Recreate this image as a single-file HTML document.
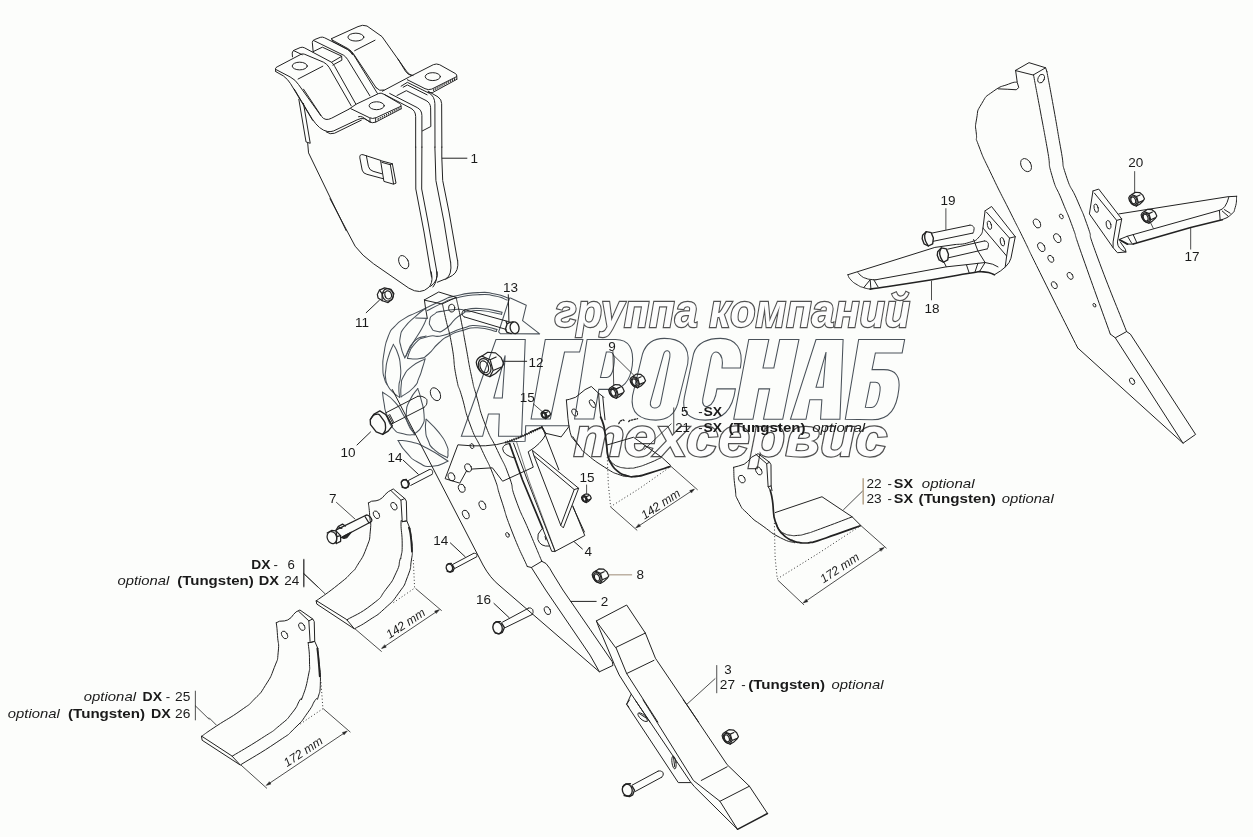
<!DOCTYPE html>
<html><head><meta charset="utf-8"><title>Diagram</title>
<style>
html,body{margin:0;padding:0;background:#fcfdfb;}
body{width:1253px;height:837px;overflow:hidden;font-family:"Liberation Sans",sans-serif;}
svg{display:block}
text{filter:grayscale(1)}
.l,.l *{vector-effect:non-scaling-stroke}
#nutL *{vector-effect:non-scaling-stroke}
.l{fill:none;stroke:#222;stroke-width:1;stroke-linecap:round;stroke-linejoin:round}
.dt{stroke:#333;stroke-dasharray:1 2.3;stroke-linecap:butt;stroke-width:1}
.hd{stroke-width:1.35}
use{stroke-width:1.2}
.f{fill:#fff;stroke:#262626;stroke-width:.9;stroke-linecap:round;stroke-linejoin:round}
.t{fill:none;stroke:#3a3a3a;stroke-width:.8;stroke-linecap:round;stroke-linejoin:round}
.d{fill:none;stroke:#555;stroke-width:.8;stroke-dasharray:1 1.6}
.w,.w *{vector-effect:non-scaling-stroke}
.w{fill:none;stroke:#4a525a;stroke-width:1.05;stroke-linejoin:miter}
text{font-family:"Liberation Sans",sans-serif;fill:#1a1a1a}
</style></head><body>
<svg width="1253" height="837" viewBox="0 0 1253 837">
<rect width="1253" height="837" fill="#fcfdfb"/>
<!-- watermark big letters -->
<g class="w">
<g transform="translate(455 332) scale(0.16722)">
<!-- A big -->
<path d="M245,45 L420,45 L398,624 L260,624 L265,490 L200,490 L165,624 L38,624 Z M300,140 L232,395 L283,395 Z"/>
<!-- Г -->
<path d="M540,45 L765,45 L745,120 L655,120 L570,520 L455,520 Z"/>
<!-- Р -->
<path d="M790,45 L960,45 C1040,45 1072,100 1060,200 C1048,290 1010,343 930,343 L860,343 L830,520 L715,520 Z M905,120 L870,272 L905,272 C935,272 948,225 952,180 C955,140 945,120 925,120 Z"/>
</g>
<g transform="translate(620 332) scale(0.16722)">
<!-- О -->
<path d="M135,130 C155,70 200,38 265,38 C360,38 420,85 405,190 L345,430 C325,495 280,527 215,527 C125,527 58,490 75,380 Z M260,135 C268,100 305,105 298,150 L243,425 C235,465 173,465 182,420 Z"/>
<!-- С -->
<path d="M720,215 L610,215 C624,118 560,92 545,150 L495,400 C483,468 562,470 580,340 L690,340 C672,480 600,527 510,527 C415,527 365,480 385,390 L440,130 C460,62 530,38 600,38 C692,38 742,100 720,215 Z"/>
<!-- Н -->
<path d="M770,45 L890,45 L855,215 L920,215 L955,45 L1070,45 L973,522 L858,522 L895,340 L830,340 L795,522 L680,522 Z"/>
</g>
<g transform="translate(760 332) scale(0.16722)">
<!-- А -->
<path d="M335,45 L497,45 L478,522 L362,522 L370,405 L298,405 L275,522 L182,522 Z M395,120 L335,330 L378,330 Z"/>
<!-- Б -->
<path d="M590,45 L865,45 L850,125 L690,125 L670,225 L740,225 C815,225 840,270 830,345 C818,450 780,525 670,525 L510,522 Z M660,300 L630,450 L665,452 C700,452 712,400 718,350 C722,315 710,300 690,300 Z"/>
</g>
<path d="M569.5,425.7 L525.7,425.7 L525.1,441.3 L505.9,441.9"/>
</g>
<!-- watermark small text -->
<g>
<text x="554.7" y="327.1" font-size="46" font-weight="bold" font-style="italic" textLength="355.4" lengthAdjust="spacingAndGlyphs" style="font-family:'Liberation Sans',sans-serif;fill:#fcfdfb;stroke:#4a525a;stroke-width:2.4;stroke-linejoin:miter;stroke-miterlimit:3;paint-order:stroke fill">группа компаний</text>
<text x="573.5" y="456.1" font-size="55" font-weight="bold" font-style="italic" textLength="313.8" lengthAdjust="spacingAndGlyphs" style="font-family:'Liberation Sans',sans-serif;fill:#fcfdfb;stroke:#4a525a;stroke-width:2.4;stroke-linejoin:miter;stroke-miterlimit:3;paint-order:stroke fill">техсервис</text>
</g>
<!-- watermark logo: wreath + gear (U coords: origin 370,295 @9.623) -->
<g transform="translate(370 295) scale(0.10392)" class="w" style="stroke-linejoin:round;stroke-linecap:round">
<!-- outer arc -->
<path d="M540,124 C506.7,140.0 507.7,139.0 440,172 C372.3,205.0 403.7,180.3 337,223 C270.3,265.7 294.0,241.0 240,300 C186.0,359.0 210.0,313.3 175,400 C140.0,486.7 152.0,460.0 135,560 C118.0,660.0 123.0,620.0 124,700 C125.0,780.0 122.7,743.3 138,800 C153.3,856.7 142.7,825.0 170,870 C197.3,915.0 182.3,896.7 220,935 C257.7,973.3 262.0,968.3 283,985"/>
<!-- gear double outer arc -->
<path d="M540,124 C592.0,100.0 602.7,90.3 696,52 C789.3,13.7 705.3,34.0 820,9 C934.7,-16.0 912.3,-16.7 1040,-23 C1167.7,-29.3 1107.3,-27.3 1203,-10 C1298.7,7.3 1285.7,16.0 1327,29"/>
<path d="M551,150 C599.3,126.0 606.3,118.0 696,78 C785.7,38.0 705.3,57.0 820,30 C934.7,3.0 912.3,3.7 1040,-3 C1167.7,-9.7 1110.0,-7.3 1203,10 C1296.0,27.3 1280.3,36.0 1319,49"/>
<!-- gear tooth + base line -->
<path d="M1343,29 L1238,356 L1254,372 L1633,374 L1468,247 L1504,98 L1351,29"/>
<!-- inner crescent -->
<path d="M904,146 C956.0,140.7 938.0,123.3 1060,130 C1182.0,136.7 1200.0,154.0 1270,166"/>
<path d="M1266,186 C1197.3,174.0 1168.7,158.0 1060,150 C951.3,142.0 992.0,163.3 940,162 C888.0,160.7 916.0,151.3 904,146"/>
<path d="M1270,166 L1266,186"/>
<!-- teardrop -->
<path d="M575,244 C584.0,205.0 568.0,219.0 613,189 C658.0,159.0 613.0,168.0 710,154 C807.0,140.0 867.0,121.7 904,147 C941.0,172.3 881.0,170.0 821,230 C761.0,290.0 784.0,287.7 724,327 C664.0,366.3 687.0,355.0 641,348 C595.0,341.0 608.0,340.7 586,306 C564.0,271.3 566.0,283.0 575,244Z"/>
<!-- leaf A -->
<path d="M537,127 C505.0,152.3 507.7,143.3 441,203 C374.3,262.7 386.7,240.3 337,306 C287.3,371.7 305.0,335.3 292,400 C279.0,464.7 283.7,431.7 298,500 C312.3,568.3 322.7,570.0 335,605"/>
<path d="M544,225 C528.0,259.0 539.7,248.0 496,327 C452.3,406.0 466.7,369.3 413,462 C359.3,554.7 361.0,557.3 335,605"/>
<path d="M440,222 L550,225"/>
<!-- leaf C + lower band -->
<path d="M360,605 C383.3,560.0 363.3,538.3 430,470 C496.7,401.7 470.0,426.7 560,400 C650.0,373.3 590.0,416.7 700,390 C810.0,363.3 778.0,351.7 890,320 C1002.0,288.3 925.3,291.3 1036,295 C1146.7,298.7 1160.0,319.0 1222,331"/>
<path d="M360,610 C400.0,610.0 413.3,623.3 480,610 C546.7,596.7 499.3,619.3 560,570 C620.7,520.7 593.7,522.3 662,462 C730.3,401.7 689.0,429.3 765,389 C841.0,348.7 799.7,365.7 890,341 C980.3,316.3 928.0,311.3 1036,315 C1144.0,318.7 1154.7,339.7 1214,352"/>
<path d="M1222,331 L1214,352"/>
<path d="M345,590 C370.0,543.3 355.0,515.0 420,450 C485.0,385.0 500.0,413.3 540,395"/>
<!-- leaf E -->
<path d="M225,475 C208.3,516.7 199.3,518.3 175,600 C150.7,681.7 160.3,653.3 152,720 C143.7,786.7 145.7,753.3 150,800 C154.3,846.7 160.0,840.0 165,860"/>
<path d="M225,475 C240.0,506.7 247.7,501.7 270,570 C292.3,638.3 284.3,606.7 292,680 C299.7,753.3 297.7,723.3 293,790 C288.3,856.7 280.7,815.0 278,880 C275.3,945.0 282.7,950.0 285,985"/>
<!-- leaf D -->
<path d="M530,615 C486.7,640.0 468.3,635.0 400,690 C331.7,745.0 358.3,720.0 325,780 C291.7,840.0 309.0,803.3 300,870 C291.0,936.7 298.7,943.3 298,980"/>
<path d="M530,615 C521.7,643.3 525.0,638.3 505,700 C485.0,761.7 498.3,736.7 470,800 C441.7,863.3 476.7,830.0 420,890 C363.3,950.0 340.0,950.0 300,980"/>
<!-- leaf F -->
<path d="M120,935 C125.0,970.0 121.7,968.3 135,1040 C148.3,1111.7 131.7,1070.0 160,1150 C188.3,1230.0 166.7,1218.3 220,1280 C273.3,1341.7 250.0,1313.3 320,1335 C390.0,1356.7 393.3,1341.7 430,1345"/>
<path d="M120,935 C160.0,966.7 170.0,951.7 240,1030 C310.0,1108.3 276.7,1083.3 330,1170 C383.3,1256.7 366.7,1231.7 400,1290 C433.3,1348.3 420.0,1326.7 430,1345"/>
<!-- leaf G -->
<path d="M460,900 C435.0,936.7 421.7,933.3 385,1010 C348.3,1086.7 355.0,1050.0 350,1130 C345.0,1210.0 343.3,1181.7 370,1250 C396.7,1318.3 410.0,1306.7 430,1335"/>
<path d="M460,900 C470.0,933.3 470.0,916.7 490,1000 C510.0,1083.3 516.7,1063.3 520,1150 C523.3,1236.7 530.0,1198.3 500,1260 C470.0,1321.7 453.3,1310.0 430,1335"/>
<!-- leaf H -->
<path d="M540,1195 C538.3,1230.0 528.3,1231.7 535,1300 C541.7,1368.3 531.7,1336.7 560,1400 C588.3,1463.3 558.3,1435.0 620,1490 C681.7,1545.0 703.3,1540.0 745,1565"/>
<path d="M540,1195 C580.0,1236.7 595.0,1238.3 660,1320 C725.0,1401.7 705.0,1373.3 735,1440 C765.0,1506.7 746.7,1478.3 750,1520 C753.3,1561.7 746.7,1550.0 745,1565"/>
<!-- leaf I -->
<path d="M270,1400 C313.3,1405.0 306.7,1390.0 400,1415 C493.3,1440.0 433.3,1414.3 550,1475 C666.7,1535.7 683.3,1556.3 750,1597"/>
<path d="M270,1400 C296.7,1438.3 283.3,1443.3 350,1515 C416.7,1586.7 386.7,1570.7 470,1615 C553.3,1659.3 506.7,1653.0 600,1648 C693.3,1643.0 700.0,1616.0 750,1600"/>
</g>
<!-- part 1: bracket top detail (tile 270,30 @11.933) -->
<g transform="translate(270 30) scale(0.0838)" class="l" style="vector-effect:non-scaling-stroke">
<g id="p1a">
<!-- front strap tab -->
<path d="M68,495 L65,462 Q68,448 85,440 L370,290 Q392,280 415,290 L640,385 Q680,405 705,445 L969,905"/>
<path d="M335,585 L630,432"/>
<path d="M68,470 L240,560 Q305,595 340,650 L606,1021"/>
<path d="M70,497 L160,548 Q215,590 245,640 L509,1078"/>
<ellipse cx="355" cy="430" rx="90" ry="46"/>
<!-- thin strip behind -->
<path d="M268,320 L265,275 Q268,250 290,240 L360,210 Q385,200 410,212 L735,385 Q760,410 772,435 L1025,885"/>
<path d="M280,245 L385,295"/>
<!-- channel -->
<path d="M515,260 L505,150 Q505,125 530,115 L600,88 Q625,80 650,92 L935,235 Q975,260 1000,300 L1282,757"/>
<path d="M520,125 L880,302 Q905,320 925,350 L1192,786"/>
<path d="M515,258 L625,205 L855,312 L858,360 L750,418"/>
<path d="M735,385 L855,314"/>
<!-- back tab -->
<path d="M745,130 L735,102"/>
<path d="M740,118 L930,222 Q975,250 1000,290 L1267,690"/>
<path d="M750,138 L925,232 Q960,255 985,295"/>
<path d="M1010,247 L1253,122"/>
<ellipse cx="1025" cy="85" rx="95" ry="47"/>
</g>
</g>
<!-- part 1: front/right tabs + plate tops (tile 345,60 @9.623) -->
<g transform="translate(345 60) scale(0.10392)" class="l">
<!-- front tab -->
<path d="M36,474 L110,424 L325,322 Q345,312 375,330 L525,418 Q540,428 540,445 L540,470"/>
<path d="M538,445 L300,555 Q265,570 235,555 L55,468"/>
<path d="M540,470 L295,598 Q262,612 232,592 L170,550 Q150,538 130,545"/>
<path d="M240,560 L240,598 M295,560 L295,596"/>
<path d="M520,462 L518,472 M500,472 L498,482 M480,482 L478,492 M460,492 L458,502 M440,502 L438,512 M420,512 L418,522 M400,522 L398,532 M380,532 L378,542 M360,542 L358,552 M340,552 L338,562 M320,562 L318,574"/>
<ellipse cx="305" cy="440" rx="73" ry="38"/>
<!-- right tab -->
<path d="M360,300 L620,162 L850,45 Q880,32 910,45 L1065,132 Q1078,142 1076,160 L1076,186"/>
<path d="M1074,160 L835,280 Q800,292 770,276 L600,190"/>
<path d="M1076,186 L845,312 Q820,322 800,310"/>
<path d="M1055,178 L1053,190 M1035,188 L1033,200 M1015,198 L1013,210 M995,208 L993,220 M975,218 L973,230 M955,228 L953,241 M935,238 L933,252 M915,248 L913,262 M895,258 L893,273 M875,268 L873,284 M855,279 L853,295"/>
<ellipse cx="845" cy="160" rx="73" ry="38"/>
<!-- back strap valley -->
<path d="M510,-10 L580,105 Q600,140 640,150"/>
<path d="M300,268 Q330,305 375,290"/>
<!-- plates top -->
<path d="M380,332 L635,465 Q680,490 680,545 L680,840"/>
<path d="M430,322 L695,458 Q740,482 740,535 L740,840"/>
<path d="M500,342 L590,295 L780,390 Q822,412 824,460 L826,640 L745,682"/>
<path d="M540,252 L600,215 L815,322 Q862,350 865,420 L866,840"/>
<path d="M800,300 L895,355 Q930,380 930,420 L932,840"/>
<path d="M560,262 L600,240 L790,335"/>
</g>
<!-- part 1 body (tile 270,90 @5.967) -->
<g transform="translate(270 90) scale(0.16759)" class="l">
<!-- front strap lower bend -->
<path d="M200,-5 L308,158 Q330,188 368,168 L470,115"/>
<path d="M145,-5 L250,170 Q295,240 345,248 Q365,250 380,244 L520,178 Q545,165 565,172 L600,192"/>
<path d="M335,250 Q360,268 385,258 L545,180"/>
<!-- left plate sliver -->
<path d="M172,55 L215,310 L240,318 L200,80"/>
<path d="M225,318 L230,375 L455,840"/>
<!-- slot -->
<path d="M660,420 L555,386 Q533,382 536,405 L550,478 Q555,498 578,503 L678,530"/>
<path d="M575,393 L587,455 Q592,478 615,485 L668,500"/>
<path d="M662,422 L730,440 L752,556 L737,562 L682,546 Z M668,432 L718,446 L737,560 M718,446 L730,440"/>
<!-- label 1 -->
<path d="M1028,407 L1175,407"/>
</g>
<!-- plates long edges, orig coords -->
<g class="l">
<path d="M415.7,147 L415.8,189 L424,232 L431.5,277"/>
<path d="M421.9,147 L421.7,189 L428,222 L436.5,270 Q438,281 433,287"/>
<path d="M434.9,147 L435.9,180.5 L444,222 L450.5,262"/>
<path d="M441.8,147 L441.8,157 L442.7,180.5 L449,212 L457.5,260.5"/>
</g>
<!-- part 1 bottom (tile 330,180 @5.967) -->
<g transform="translate(330 180) scale(0.16759)" class="l">
<path d="M0,112 L150,395 Q190,450 260,500 L470,645 Q540,688 590,640 Q612,615 608,575 L604,548"/>
<path d="M640,548 Q648,600 600,635"/>
<path d="M720,490 Q730,570 690,590 L640,610"/>
<path d="M762,480 Q770,545 730,570 L690,592"/>
<ellipse cx="440" cy="490" rx="27" ry="42" transform="rotate(-27 440 490)"/>
</g>
<text x="470.5" y="162.5" font-size="13.5">1</text>
<g class="l">
<path d="M331.6,38.6 L358,26.6 Q362.5,24.3 367,26 L382,36.6 L406.5,71.2 Q409.5,75.5 413,75.6"/>
</g>
<!-- nut 11 -->
<g transform="translate(385.6 295.1)" class="l" style="stroke-width:1.2">
<path d="M-8.3,-0.7 L-6.1,-5 L-1.1,-7.2 L5.4,-5.7 L8.3,-1.4 L6.8,3.6 L2.5,7.5 L-3.2,5.7 L-7.5,2.9 Z"/>
<ellipse cx="2.3" cy="-0.2" rx="5.4" ry="6.2" transform="rotate(-15 2.3 -0.2)"/>
<ellipse cx="2.6" cy="-0.2" rx="3.3" ry="4.1" transform="rotate(-15 2.6 -0.2)"/>
<path d="M-3.4,5.6 L-3.6,-1.5 L-6.1,-5 M-3.6,-1.5 L-1,-2.8"/>
</g>
<path class="l" d="M379.5,300.1 L366.2,312.7"/>
<text x="355" y="326.8" font-size="13.5">11</text>
<!-- nut 12 (origin 462,340 @16.7) -->
<defs>
<g id="nutL">
<path d="M330,270 L430,205 L560,215 L650,290 L700,400 L655,470 L560,560 L465,612 Q395,600 325,540 Q245,470 238,370 Q255,300 330,270 Z"/>
<path d="M330,270 L470,330 L520,510 L465,612 M470,330 L570,285 M520,510 L650,455"/>
<ellipse cx="378" cy="445" rx="100" ry="140" transform="rotate(-22 378 445)"/>
<ellipse cx="372" cy="447" rx="66" ry="104" transform="rotate(-22 372 447)"/>
</g>
</defs>
<g transform="translate(462 340) scale(0.05988)" class="l"><use href="#nutL"/></g>
<path class="l" d="M503.9,361.3 L526.7,361.3"/>
<text x="528.5" y="366.5" font-size="13.5">12</text>
<!-- bolt 10 (origin 370,375 @9.623) -->
<g transform="translate(370 375) scale(0.10392)" class="l">
<path class="hd" d="M2,430 L40,375 L95,345 L150,380 L215,490 L175,540 L122,572 L60,548 L5,478 Z"/>
<path class="hd" d="M5,425 C21.7,409.3 18.3,381.3 55,378 C91.7,374.7 83.3,372.7 115,415 C146.7,457.3 147.7,452.7 150,505 C152.3,557.3 131.3,549.7 122,572"/>
<path d="M150,365 L460,205 M210,470 L520,312"/>
<path d="M460,205 C480.0,208.3 490.7,196.0 520,215 C549.3,234.0 548.0,229.7 548,262 C548.0,294.3 529.3,295.3 520,312"/>
<path d="M165,392 L205,470 M178,386 L218,462 M190,380 L228,455"/>
</g>
<path class="l" d="M370.5,432 L357,445"/>
<text x="340.5" y="457" font-size="13.5">10</text>
<!-- nut 8 -->
<g transform="translate(600.5 576.2) scale(0.0359) translate(-470 -410)" class="l"><use href="#nutL"/></g>
<path d="M608.8,574.8 L632.1,574.8" style="fill:none;stroke:#b3a594;stroke-width:1.3"/>
<text x="636.6" y="578.8" font-size="13.5">8</text>
<!-- label 2 -->
<path class="l" d="M570.8,601.4 L596.2,601.4"/>
<text x="600.7" y="605.8" font-size="13.5">2</text>
<!-- bolt 16 (tile 470,590 @10.44) -->
<g transform="translate(470 590) scale(0.09579)" class="l">
<ellipse class="hd" cx="288" cy="395" rx="48" ry="62" transform="rotate(-15 288 395)"/>
<path class="hd" d="M330,345 L360,392 L338,442 M250,350 L275,330 L318,330 M262,448 L305,458 L338,442"/>
<path d="M340,335 L610,190 M370,392 L650,255"/>
<path d="M610,190 C620.0,190.7 624.0,181.3 640,192 C656.0,202.7 654.7,201.0 658,222 C661.3,243.0 652.7,244.0 650,255"/>
<path d="M250,140 L410,290"/>
</g>
<text x="476" y="603.5" font-size="13.5">16</text>
<!-- part 2 shank: top (tile 405,283 @13.92) -->
<g transform="translate(405 283) scale(0.07184)" class="l">
<path d="M270,235 L470,125 L712,200 L520,290 Z"/>
<path d="M270,235 L285,345 L310,490"/>
<ellipse cx="650" cy="350" rx="43" ry="54" transform="rotate(-8 650 350)"/>
</g>
<!-- part 2 long edges (orig coords) -->
<g class="l">
<path d="M442.4,303.8 C443.6,309.2 442.8,306.0 446,320 C449.2,334.0 448.5,326.9 451.9,345.8 C455.3,364.7 452.8,359.6 456.2,376.7 C459.6,393.8 457.3,380.9 462,397 C466.7,413.1 463.6,407.1 470.3,425 C477.0,442.9 474.4,433.6 482.2,450.6 C490.0,467.6 487.3,459.6 493.7,476.1 C500.1,492.6 495.1,481.4 501.3,500 C507.5,518.6 503.5,509.8 512.2,532 C520.9,554.2 522.3,555.0 527.3,566.5"/>
<path d="M456.1,297.4 C457.7,304.9 457.8,303.9 461,320 C464.2,336.1 462.3,326.9 465.8,345.8 C469.3,364.7 468.0,360.0 471.6,376.7 C475.2,393.4 471.9,379.9 476.5,396 C481.1,412.1 478.4,406.8 485.4,425 C492.4,443.2 489.6,433.6 497.5,450.6 C505.4,467.6 502.9,459.6 509,476.1 C515.1,492.6 509.1,481.4 515.9,500 C522.7,518.6 520.9,511.6 529.5,532 C538.1,552.4 537.7,551.5 541.8,561.3"/>
<path d="M541.8,561.3 L546,563.5 Q550,568 553,574 L562.9,590 L590,629.3 L612.3,661.8 L613,665.4 L599.4,671.8 L590,655.1 L545.7,590 L531.4,567.5 L527.3,566.5 M541.8,561.3 L531.4,567.5"/>
<path d="M392.3,389.5 L483,565 Q490,578 500,586 L599.4,671.8"/>
<ellipse cx="482.4" cy="505.3" rx="3" ry="4.6" transform="rotate(-25 482.4 505.3)"/>
<ellipse cx="465.8" cy="514.5" rx="3" ry="4.6" transform="rotate(-25 465.8 514.5)"/>
<ellipse cx="507.5" cy="534.9" rx="1.6" ry="2.5" transform="rotate(-25 507.5 534.9)"/>
<ellipse cx="547.4" cy="610.6" rx="2.8" ry="4.2" transform="rotate(-25 547.4 610.6)"/>
<ellipse cx="435.5" cy="394.2" rx="4.6" ry="6.9" transform="rotate(-28 435.5 394.2)"/>
</g>
<!-- arc plate (tile 440,425 @7.825) -->
<g transform="translate(440 425) scale(0.1278)" class="l">
<path d="M800,15 Q640,95 520,135 Q380,180 140,155 L40,420 L155,455 L210,355 M245,345 L410,335 L490,440 L730,330 L690,210 Q790,150 830,70 L800,15"/>
<ellipse cx="220" cy="335" rx="25" ry="33" transform="rotate(-20 220 335)"/>
<ellipse cx="170" cy="495" rx="25" ry="33" transform="rotate(-20 170 495)"/>
<ellipse cx="90" cy="405" rx="25" ry="33" transform="rotate(-20 90 405)"/>
<ellipse cx="250" cy="165" rx="14" ry="20" transform="rotate(-20 250 165)"/>
<!-- hatching along arc -->
<path d="M800,15 Q640,95 505,139" style="stroke-width:2.3;stroke-dasharray:1.1 1.2;stroke-linecap:butt"/>
<!-- part 4 -->
<path d="M725,200 L1085,495 L965,805 L945,785 L735,240 Z"/>
<path d="M735,240 L1050,505 L945,785 M1050,505 L1085,495"/>
<path d="M800,15 L930,350"/>
<path d="M1040,640 L1130,837"/>
<path d="M545,145 Q495,150 490,185 Q495,240 590,260"/>
</g>
<!-- part 4 lower (tile 500,480 @10.44) -->
<g transform="translate(500 480) scale(0.09579)" class="l">
<path d="M575,745 L885,580 L760,270"/>
<path d="M141,-385 L285,0 L575,745 L540,745 L445,505"/>
<path d="M174,-395 L300,0 L575,740" style="stroke-width:.6"/>
<path d="M100,-380 L235,0 L445,505" style="stroke-width:1.7"/>
<path d="M445,505 L430,520 Q385,560 395,620 Q420,700 515,690"/>
<path d="M470,590 L480,625"/>
<path d="M775,645 L860,720"/>
</g>
<text x="584.5" y="556.4" font-size="13.5">4</text>
<!-- pin 13 (tile 440,280 @11.933) -->
<g transform="translate(440 280) scale(0.0838)" class="l">
<path d="M300,355 L830,500 M290,440 L790,590"/>
<path d="M300,355 C289.3,363.3 278.0,358.3 268,380 C258.0,401.7 262.7,400.0 270,420 C277.3,440.0 283.3,433.3 290,440"/>
<ellipse class="hd" cx="890" cy="570" rx="53" ry="70" transform="rotate(-12 890 570)"/>
<path class="hd" d="M790,495 L800,525 L780,590 L800,625 L850,640 M800,525 L830,505 L870,500"/>
<path d="M815,175 L822,485"/>
</g>
<text x="503" y="291.8" font-size="13.5">13</text>
<!-- bolt 14 upper (tile 370,440 @9.623) -->
<g transform="translate(370 440) scale(0.10392)" class="l">
<ellipse class="hd" cx="335" cy="422" rx="33" ry="40" transform="rotate(-15 335 422)"/>
<path class="hd" d="M365,392 L378,420 L368,452 M300,405 L318,385 L350,380 M310,455 L345,463 L368,452"/>
<path d="M372,388 L570,285 M392,437 L595,332"/>
<path d="M570,285 C577.3,286.0 581.0,279.7 592,288 C603.0,296.3 602.0,295.3 603,310 C604.0,324.7 597.7,324.7 595,332"/>
<path d="M320,195 L465,330"/>
</g>
<text x="387.5" y="461.6" font-size="13.5">14</text>
<!-- bolt 14 lower (tile 425,530 @10.44) -->
<g transform="translate(425 530) scale(0.09579)" class="l">
<ellipse class="hd" cx="255" cy="395" rx="33" ry="42" transform="rotate(-15 255 395)"/>
<path class="hd" d="M285,365 L305,398 L290,432 M225,372 L245,352 L275,350 M232,432 L265,440 L290,432"/>
<path d="M288,360 L505,245 M310,402 L535,282"/>
<path d="M505,245 C513.3,245.3 517.3,239.7 530,246 C542.7,252.3 541.3,252.0 543,264 C544.7,276.0 537.7,276.0 535,282"/>
<path d="M265,135 L420,280"/>
</g>
<text x="433.3" y="545.4" font-size="13.5">14</text>
<!-- part 5 mounting plate (tile 530,360 @9.623) -->
<g transform="translate(530 360) scale(0.10392)" class="l">
<path d="M350,385 L380,378 L440,358 L530,285 L590,255 L660,320 L700,350 L710,360"/>
<path d="M350,385 L365,560 L375,640 Q385,700 400,740 L480,837"/>
<path d="M375,640 L300,740 L150,705 L110,650 L0,690"/>
<path d="M660,320 L672,480 L682,552"/>
<path d="M700,350 L712,480 L722,575"/>
<ellipse cx="600" cy="420" rx="21" ry="42" transform="rotate(-32 600 420)"/>
<ellipse cx="430" cy="505" rx="24" ry="37" transform="rotate(-28 430 505)"/>
<path d="M855,612 L865,590 L895,575 L905,582 M950,592 L960,582 L1035,565" style="stroke-width:1.3;stroke-dasharray:1.5 1.5"/>
</g>
<!-- part 5 blade (tile 560,420 @7.825) -->
<g transform="translate(560 420) scale(0.1278)" class="l">
<path d="M318,-22 C324.7,-4.7 326.7,-10.7 338,30 C349.3,70.7 343.0,43.3 352,100 C361.0,156.7 357.3,140.0 365,200 C372.7,260.0 363.3,233.3 375,280 C386.7,326.7 375.0,300.0 400,340 C425.0,380.0 410.0,368.3 450,400 C490.0,431.7 470.0,421.7 520,435 C570.0,448.3 540.0,446.7 600,440 C660.0,433.3 613.3,440.0 700,415 C786.7,390.0 806.7,381.7 860,365" style="stroke-width:1.8"/>
<path d="M370,195 L575,135 L800,295 L865,355"/>
<path d="M380,290 C385.0,300.0 381.7,301.7 395,320 C408.3,338.3 400.0,330.3 420,345 C440.0,359.7 428.3,354.0 455,364 C481.7,374.0 468.3,370.7 500,375 C531.7,379.3 516.7,378.7 550,377 C583.3,375.3 553.3,382.3 600,370 C646.7,357.7 626.7,365.0 690,340 C753.3,315.0 756.7,310.0 790,295"/>
<path d="M100,130 C118.7,157.0 122.7,167.7 156,211 C189.3,254.3 135.3,207.0 200,260 C264.7,313.0 260.0,313.3 350,370 C440.0,426.7 406.7,406.7 470,430 C533.3,453.3 516.7,436.7 540,440"/>
<path d="M370,290 L378,500 L396,678 L620,537 L850,375" class="dt"/>
<path d="M865,360 L1075,545 M398,682 L602,862" style="stroke-width:.8"/>
<path d="M1045,545 L600,840" style="stroke-width:.8"/>
<path d="M1050,541 L1015,552 L1027,569 Z M595,843 L630,832 L618,815 Z" style="fill:#222;stroke-width:.5"/>
<path d="M890,-95 L890,100 M870,30 L660,230" style="stroke-width:.8"/>
</g>
<text transform="translate(644.5 519.7) rotate(-33.5)" font-size="12.2" font-style="italic">142 mm</text>
<g font-size="13.2">
<text x="681" y="415.7">5</text>
<text x="698.3" y="415.7">-</text>
<text x="703.5" y="415.7" font-weight="bold" textLength="18.6" lengthAdjust="spacingAndGlyphs">SX</text>
<text x="675.2" y="432.4">21</text>
<text x="698.3" y="432.4">-</text>
<text x="703.5" y="432.4" font-weight="bold" textLength="18.6" lengthAdjust="spacingAndGlyphs">SX</text>
<text x="728.6" y="432.4" font-weight="bold" textLength="77" lengthAdjust="spacingAndGlyphs">(Tungsten)</text>
<text x="812.2" y="432.4" font-style="italic" textLength="53" lengthAdjust="spacingAndGlyphs">optional</text>
</g>
<!-- nuts 9 -->
<g transform="translate(616.5 391.5) scale(0.0337) translate(-470 -410)" class="l"><use href="#nutL"/></g>
<g transform="translate(637.8 381) scale(0.0337) translate(-470 -410)" class="l"><use href="#nutL"/></g>
<path class="l" d="M612.9,351.5 L613.7,385 M613.7,355.4 L633.6,375" style="stroke-width:.8"/>
<text x="608.3" y="351.3" font-size="13.5">9</text>
<!-- nuts 15 -->
<g transform="translate(545.8 414.4) scale(0.021) translate(-470 -410)" class="l" style="stroke-width:1.2"><use href="#nutL"/></g>
<path class="l" d="M533.3,403.8 L542,411.4" style="stroke-width:.8"/>
<text x="519.8" y="401.5" font-size="13.5">15</text>
<g transform="translate(586.4 498.3) scale(0.021) translate(-470 -410)" class="l" style="stroke-width:1.2"><use href="#nutL"/></g>
<path class="l" d="M586.6,485 L586.6,493.5" style="stroke-width:.8"/>
<text x="579.6" y="482" font-size="13.5">15</text>
<!-- part 6 upper (tile 300,480 @7.825) -->
<g transform="translate(300 480) scale(0.1278)" class="l">
<path d="M535,180 L560,166 Q600,165 620,155 Q650,140 665,115 Q685,90 730,70 L820,145 L832,165 L836,320 L800,326 L790,158 L715,86"/>
<path d="M790,158 L820,145"/>
<path d="M800,326 L836,320 L860,378"/>
<path d="M852,372 C856.7,394.7 858.0,377.3 866,440 C874.0,502.7 872.7,520.0 876,560" style="stroke-width:1.7"/>
<ellipse cx="735" cy="205" rx="21" ry="32" transform="rotate(-28 735 205)"/>
<ellipse cx="598" cy="272" rx="21" ry="32" transform="rotate(-28 598 272)"/>
<!-- bolt 7 moved -->
<path d="M285,175 L430,305" style="stroke-width:.8"/>
<path d="M30,620 L30,837 M30,735 L140,837" style="stroke-width:.8"/>
</g>
<text x="329" y="502.5" font-size="13.5">7</text>
<!-- part 6 lower (tile 290,560 @7.825) -->
<g transform="translate(290 560) scale(0.1278)" class="l">
<path d="M205,320 L210,345 L505,540 L445,468 Z"/>
<path d="M965,0 L975,220 L800,340" class="dt"/>
<path d="M985,225 L1185,395 M510,540 L715,715 M1160,395 L725,687" style="stroke-width:.8"/>
<path d="M1167,390 L1132,400 L1143,417 Z M718,692 L753,682 L742,665 Z" style="fill:#222;stroke-width:.5"/>
<path d="M108,0 L108,205 M108,105 L275,265" style="stroke-width:.8"/>
</g>
<text transform="translate(389.5 639) rotate(-33.5)" font-size="12.2" font-style="italic">142 mm</text>
<g font-size="13.2">
<text x="251.3" y="569.3" font-weight="bold" textLength="19.2" lengthAdjust="spacingAndGlyphs">DX</text>
<text x="273.6" y="569.3">-</text>
<text x="287.6" y="569.3">6</text>
<text x="117.4" y="584.6" font-style="italic" textLength="52" lengthAdjust="spacingAndGlyphs">optional</text>
<text x="177.2" y="584.6" font-weight="bold" textLength="76.5" lengthAdjust="spacingAndGlyphs">(Tungsten)</text>
<text x="258.8" y="584.6" font-weight="bold" textLength="20.3" lengthAdjust="spacingAndGlyphs">DX</text>
<text x="284.3" y="584.6" textLength="15" lengthAdjust="spacingAndGlyphs">24</text>
</g>
<!-- bolt 7 (tile 320,505 @20.9) -->
<g transform="translate(320 505) scale(0.04785)" class="l" style="stroke-width:1.25">
<ellipse cx="250" cy="680" rx="98" ry="128" transform="rotate(-20 250 680)"/>
<path d="M150,585 L240,532 L335,540 L430,640 L432,760 L340,805"/>
<path d="M335,540 L350,660 L340,805 M350,660 L430,640"/>
<path d="M340,520 L960,215 M450,680 L1030,370"/>
<path d="M340,520 L380,450 L470,400 L530,440 M380,450 L440,490 L460,480"/>
<path d="M450,680 L520,640 L650,570 L560,680 L500,700 Z" style="fill:#2a2a2a"/>
<path d="M960,215 C973.3,215.0 963.3,193.3 1000,215 C1036.7,236.7 1044.7,238.3 1070,280 C1095.3,321.7 1089.3,310.0 1076,340 C1062.7,370.0 1045.3,360.0 1030,370"/>
<path d="M940,240 L1020,370"/>
</g>
<g class="l">
<path d="M368.4,503 C368.8,507.3 369.1,506.4 369.7,515.8 C370.3,525.2 371.4,520.5 370.3,531.1 C369.2,541.7 370.8,536.3 366.5,547.7 C362.2,559.1 362.4,557.0 357.3,565.4 C352.2,573.8 357.5,566.5 351.3,572.8 C345.1,579.1 350.3,574.9 338.6,584.3 C326.9,593.7 323.7,595.4 316.2,600.9"/>
<path d="M402.2,521.7 C401.8,522.5 401.0,516.7 401,524.1 C401.0,531.5 402.2,533.0 402.2,543.9 C402.2,554.8 401.8,551.3 401,556.7 C400.2,562.1 401.5,554.6 399.9,560 C398.3,565.4 400.8,563.0 396.1,572.8 C391.4,582.6 394.0,578.8 385.9,589.4 C377.8,600.0 384.8,594.6 371.8,604.7 C358.8,614.8 355.2,614.8 346.9,619.8"/>
<path d="M409.9,528.3 C410.4,531.4 410.6,530.6 411.4,537.5 C412.2,544.4 412.2,541.5 412.2,549 C412.2,556.5 412.9,550.8 411.4,560 C409.9,569.2 411.9,565.5 407.6,576.6 C403.3,587.7 406.3,582.5 398.6,593.2 C390.9,603.9 394.4,599.6 384.6,608.6 C374.8,617.6 379.0,613.5 369.2,620.1 C359.4,626.7 359.9,625.6 355.2,628.4"/>
</g>
<!-- part 25 upper (tile 190,610 @7.825) -->
<g transform="translate(190 610) scale(0.1278)" class="l">
<path d="M675,100 L700,88 Q745,88 765,78 Q795,62 810,35 Q825,12 860,0 L960,70 L972,90 L976,245 L940,255 L930,85 L850,10"/>
<path d="M930,85 L960,70"/>
<path d="M925,255 L940,255 L976,245 L1000,300"/>
<path d="M996,300 C999.3,333.3 999.7,326.7 1006,400 C1012.3,473.3 1012.0,480.0 1015,520" style="stroke-width:1.7"/>
<path d="M1025,565 L1040,772 L860,894" class="dt"/>
<ellipse cx="875" cy="130" rx="21" ry="32" transform="rotate(-28 875 130)"/>
<ellipse cx="740" cy="195" rx="21" ry="32" transform="rotate(-28 740 195)"/>
<path d="M42,635 L42,860 M42,750 L150,855" style="stroke-width:.8"/>
</g>
<!-- part 25 lower (tile 190,700 @7.825) -->
<g transform="translate(190 700) scale(0.1278)" class="l">
<path d="M90,285 L95,315 L395,510 L330,440 Z"/>
<path d="M1045,70 L1253,250 M400,510 L600,690 M1222,248 L605,663" style="stroke-width:.8"/>
<path d="M1228,244 L1193,254 L1204,271 Z M598,668 L633,658 L622,641 Z" style="fill:#222;stroke-width:.5"/>
<path d="M150,140 L205,195" style="stroke-width:.8"/>
</g>
<text transform="translate(287 767.3) rotate(-33.5)" font-size="12.2" font-style="italic">172 mm</text>
<g font-size="13.2">
<text x="83.8" y="701.4" font-style="italic" textLength="52.2" lengthAdjust="spacingAndGlyphs">optional</text>
<text x="142.5" y="701.4" font-weight="bold" textLength="19.5" lengthAdjust="spacingAndGlyphs">DX</text>
<text x="165.7" y="701.4">-</text>
<text x="175.1" y="701.4" textLength="15.3" lengthAdjust="spacingAndGlyphs">25</text>
<text x="7.8" y="717.8" font-style="italic" textLength="52" lengthAdjust="spacingAndGlyphs">optional</text>
<text x="68" y="717.8" font-weight="bold" textLength="77" lengthAdjust="spacingAndGlyphs">(Tungsten)</text>
<text x="150.9" y="717.8" font-weight="bold" textLength="19.8" lengthAdjust="spacingAndGlyphs">DX</text>
<text x="175.1" y="717.8" textLength="15.3" lengthAdjust="spacingAndGlyphs">26</text>
</g>
<g class="l">
<path d="M308.2,642.6 C308.6,648.8 309.5,649.8 309.5,661.1 C309.5,672.4 310.5,664.6 308.2,676.5 C305.9,688.4 305.3,689.1 302.5,696.9 C299.7,704.7 303.3,694.7 299.9,700 C296.5,705.3 299.0,704.3 292.2,712.8 C285.4,721.3 289.7,717.1 279.5,725.6 C269.3,734.1 277.4,728.1 261.6,738.3 C245.8,748.5 242.0,750.2 232.2,756.2"/>
<path d="M317.8,648.3 C318.2,652.6 318.2,650.0 319.1,661.1 C320.0,672.2 320.7,669.7 320.4,681.6 C320.1,693.5 320.0,690.6 318.2,696.9 C316.4,703.2 318.5,695.1 315,700.4 C311.5,705.7 314.3,703.6 307.6,712.8 C300.9,722.0 305.0,718.3 294.8,728.1 C284.6,737.9 294.8,730.1 276.9,742.2 C259.0,754.3 253.0,757.1 241.1,764.5"/>
<path d="M276.3,622.8 C276.7,627.1 276.9,625.8 277.5,635.6 C278.1,645.4 279.3,641.6 278.2,652.2 C277.1,662.8 278.6,656.4 274.3,667.5 C270.0,678.6 272.0,674.9 265.4,685.4 C258.8,695.9 262.6,690.7 254.5,699 C246.4,707.3 253.9,701.1 241.1,710.2 C228.3,719.3 229.4,717.5 216.2,726.2 C203.0,734.9 206.4,733.0 201.5,736.4"/>
</g>
<!-- part 22 (tile 720,440 @6.961) -->
<g transform="translate(720 440) scale(0.14366)" class="l">
<path d="M95,190 L130,181 Q175,172 192,150 Q210,118 265,95 L345,155 L355,172 L356,320 L335,325 L325,165 L250,100"/>
<path d="M325,165 L345,155"/>
<path d="M95,190 C98.3,236.7 93.3,250.0 105,330 C116.7,410.0 98.3,366.7 130,430 C161.7,493.3 143.3,463.3 200,520 C256.7,576.7 226.7,546.7 300,600 C373.3,653.3 346.7,641.7 420,680 C493.3,718.3 486.7,703.3 520,715"/>
<path d="M335,325 L350,350 M356,320 L362,352"/>
<path d="M350,350 C355.0,373.3 357.3,367.7 365,420 C372.7,472.3 368.0,463.7 373,507 C378.0,550.3 373.3,523.3 380,550 C386.7,576.7 383.0,562.0 393,587 C403.0,612.0 395.0,601.7 410,625 C425.0,648.3 418.0,637.7 438,657 C458.0,676.3 446.7,668.0 470,683 C493.3,698.0 482.0,692.0 508,702 C534.0,712.0 521.3,708.0 548,713 C574.7,718.0 560.0,717.0 588,717 C616.0,717.0 602.0,718.0 632,713 C662.0,708.0 619.3,720.7 678,702 C736.7,683.3 708.3,692.0 808,657 C907.7,622.0 920.7,617.0 977,597" style="stroke-width:1.7"/>
<path d="M385,505 L710,395 L920,535 L975,590"/>
<path d="M390,580 C393.3,588.3 390.0,587.7 400,605 C410.0,622.3 403.3,616.3 420,632 C436.7,647.7 426.7,641.7 450,652 C473.3,662.3 460.0,659.0 490,663 C520.0,667.0 503.3,667.7 540,664 C576.7,660.3 546.7,667.3 600,652 C653.3,636.7 593.3,657.0 700,618 C806.7,579.0 846.7,562.7 920,535"/>
<ellipse cx="270" cy="215" rx="19" ry="30" transform="rotate(-28 270 215)"/>
<ellipse cx="152" cy="272" rx="21" ry="28" transform="rotate(-28 152 272)"/>
<path d="M993,355 L860,485" style="stroke-width:.8"/>
</g>
<path d="M863.2,478.2 L863.2,504.5" style="fill:none;stroke:#b9a890;stroke-width:1.6"/>
<!-- part 22 dims (tile 750,500 @6.973) -->
<g transform="translate(750 500) scale(0.14341)" class="l">
<path d="M170,160 L175,400 L190,550 L480,370 L770,180" class="dt"/>
<path d="M775,180 L950,335 M195,560 L375,730 M928,336 L378,713" style="stroke-width:.8"/>
<path d="M934,332 L903,340 L913,356 Z M372,717 L403,709 L393,693 Z" style="fill:#222;stroke-width:.5"/>
</g>
<text transform="translate(823.5 583.5) rotate(-33.5)" font-size="12.2" font-style="italic">172 mm</text>
<g font-size="13.2">
<text x="866.5" y="487.6" textLength="15.2" lengthAdjust="spacingAndGlyphs">22</text>
<text x="887.6" y="487.6">-</text>
<text x="893.8" y="487.6" font-weight="bold" textLength="19.2" lengthAdjust="spacingAndGlyphs">SX</text>
<text x="921.8" y="487.6" font-style="italic" textLength="52.8" lengthAdjust="spacingAndGlyphs">optional</text>
<text x="866.5" y="502.9" textLength="15.2" lengthAdjust="spacingAndGlyphs">23</text>
<text x="887.6" y="502.9">-</text>
<text x="893.8" y="502.9" font-weight="bold" textLength="19.2" lengthAdjust="spacingAndGlyphs">SX</text>
<text x="918.6" y="502.9" font-weight="bold" textLength="77.2" lengthAdjust="spacingAndGlyphs">(Tungsten)</text>
<text x="1001.7" y="502.9" font-style="italic" textLength="52" lengthAdjust="spacingAndGlyphs">optional</text>
</g>
<!-- part 3 upper (tile 585,600 @6.961) -->
<g transform="translate(585 600) scale(0.14366)" class="l">
<path d="M80,145 L290,35 L420,230 L215,330 Z"/>
<path d="M420,230 L490,405 L500,420 L710,730 L790,848"/>
<path d="M215,330 L290,512 L480,420"/>
<path d="M290,512 L507,850"/>
<path d="M80,145 L92,180 L205,450 L238,522 L322,655 L290,725 L305,745"/>
<path d="M322,655 L452,850"/>
<path d="M710,725 L905,548 M917,456 L917,646" style="stroke-width:.8"/>
</g>
<!-- part 3 lower (tile 600,700 @6.961) -->
<g transform="translate(600 700) scale(0.14366)" class="l">
<path d="M580,0 L605,35 L885,450 L1040,600 L1166,790"/>
<path d="M1166,790 L957,900" style="stroke-width:1.5"/>
<path d="M705,560 L885,465 M835,705 L1040,600"/>
<path d="M300,0 L650,560 L835,705 L957,900"/>
<path d="M245,0 L630,570 L657,603 L957,900"/>
<path d="M205,0 L185,30 L545,575 L630,575"/>
<ellipse cx="297" cy="120" rx="42" ry="17" transform="rotate(42 297 120)"/>
<path d="M275,95 L320,125"/>
<ellipse cx="515" cy="435" rx="14" ry="45" transform="rotate(-8 515 435)"/>
<path d="M512,400 L520,465"/>
<!-- bolt -->
<ellipse class="hd" cx="190" cy="627" rx="34" ry="42" transform="rotate(-15 190 627)"/>
<path class="hd" d="M222,598 L240,628 L228,660 M158,605 L180,585 L212,583 M168,665 L205,672 L228,660"/>
<path d="M225,592 L405,495 M245,637 L430,537"/>
<path d="M405,495 C412.7,495.7 416.3,490.3 428,497 C439.7,503.7 439.3,501.7 440,515 C440.7,528.3 433.3,529.7 430,537"/>
</g>
<!-- nut near part 3 -->
<g transform="translate(730.3 737) scale(0.0355) translate(-470 -410)" class="l"><use href="#nutL"/></g>
<text x="724.2" y="674.1" font-size="13.3">3</text>
<g font-size="13.2">
<text x="719.8" y="689.2" textLength="15.2" lengthAdjust="spacingAndGlyphs">27</text>
<text x="741.2" y="689.2">-</text>
<text x="748.2" y="689.2" font-weight="bold" textLength="76.8" lengthAdjust="spacingAndGlyphs">(Tungsten)</text>
<text x="831.5" y="689.2" font-style="italic" textLength="52" lengthAdjust="spacingAndGlyphs">optional</text>
</g>
<!-- right shank top (tile 960,55 @7.825) -->
<g transform="translate(960 55) scale(0.1278)" class="l">
<path d="M435,120 L540,60 L670,100 L575,155 Z"/>
<path d="M670,100 L680,130"/>
<path d="M435,120 L448,215 L460,255 L440,272 Q380,268 300,265"/>
<ellipse cx="635" cy="185" rx="24" ry="35" transform="rotate(22 635 185)"/>
</g>
<!-- right shank mid (tile 960,150 @7.825) -->
<g transform="translate(960 150) scale(0.1278)" class="l">
<ellipse cx="517" cy="118" rx="38" ry="55" transform="rotate(-30 517 118)"/>
<ellipse cx="603" cy="575" rx="25" ry="38" transform="rotate(-30 603 575)"/>
<ellipse cx="793" cy="520" rx="13" ry="20" transform="rotate(-30 793 520)"/>
<ellipse cx="762" cy="690" rx="25" ry="38" transform="rotate(-30 762 690)"/>
<ellipse cx="637" cy="760" rx="25" ry="38" transform="rotate(-30 637 760)"/>
</g>
<!-- right shank lower (tile 1030,240 @3.986) -->
<g transform="translate(1030 240) scale(0.25088)" class="l">
<path d="M190,430 L610,810 L660,775 L400,375 L385,365 L340,390 L320,375"/>
<path d="M340,390 L610,810"/>
<ellipse cx="83" cy="75" rx="10" ry="15" transform="rotate(-30 83 75)"/>
<ellipse cx="160" cy="143" rx="10" ry="15" transform="rotate(-30 160 143)"/>
<ellipse cx="97" cy="180" rx="10" ry="15" transform="rotate(-30 97 180)"/>
<ellipse cx="257" cy="260" rx="5" ry="8" transform="rotate(-30 257 260)"/>
<ellipse cx="407" cy="563" rx="9" ry="14" transform="rotate(-30 407 563)"/>
</g>
<g class="l">
<path d="M1016.9,82.1 C1014.1,82.8 1016.5,81.0 1008.6,84.1 C1000.7,87.2 1002.2,84.9 993.2,91.4 C984.2,97.9 987.2,94.4 981.7,103.6 C976.2,112.8 978.4,108.7 976.6,118.9 C974.8,129.1 975.5,124.8 976.4,134.2 C977.3,143.6 974.0,133.2 979.2,147 C984.4,160.8 981.4,153.3 992,175.6 C1002.6,197.9 1000.5,192.6 1011.1,213.9 C1021.7,235.2 1014.3,219.9 1023.9,239.5 C1033.5,259.1 1022.1,236.5 1040,272.6 C1057.9,308.7 1065.1,322.8 1077.7,347.9"/>
<path d="M1033.5,74.8 C1035.8,87.2 1035.8,86.9 1040.5,112 C1045.2,137.1 1043.7,128.8 1047.5,150 C1051.3,171.2 1047.1,158.6 1052,175.6 C1056.9,192.6 1055.4,184.1 1062.2,201.1 C1069.0,218.1 1065.7,208.1 1072.5,226.7 C1079.3,245.3 1070.1,221.2 1082.7,257 C1095.3,292.8 1101.1,308.4 1110.3,334.1"/>
<path d="M1046.9,71.6 C1049.3,84.4 1049.3,83.9 1054,110 C1058.7,136.1 1057.0,128.1 1061,150 C1065.0,171.9 1060.6,158.6 1066.1,175.6 C1071.6,192.6 1070.4,184.1 1077.6,201.1 C1084.8,218.1 1081.2,208.1 1087.8,226.7 C1094.4,245.3 1084.5,222.0 1097.4,257 C1110.3,292.0 1116.9,306.7 1126.6,331.6"/>
</g>
<!-- part 18 + bolts 19 (tile 840,195 @6.961) -->
<g transform="translate(840 195) scale(0.14366)" class="l">
<path d="M1010,110 L1055,80 L1220,290 L1190,440 Q1175,500 1075,555"/>
<path d="M1010,110 L995,230 L1160,425 L1150,500"/>
<path d="M1020,120 L1180,300 L1160,425 M1180,300 L1220,290"/>
<ellipse cx="1040" cy="210" rx="14" ry="30" transform="rotate(-12 1040 210)"/>
<ellipse cx="1130" cy="325" rx="14" ry="30" transform="rotate(-12 1130 325)"/>
<path d="M995,230 C986.7,250.0 1001.7,256.7 970,290 C938.3,323.3 956.7,311.7 900,330 C843.3,348.3 833.3,340.0 800,345"/>
<path d="M55,555 L660,365 L800,345"/>
<path d="M55,555 C61.7,566.7 53.3,566.7 75,590 C96.7,613.3 90.0,606.7 120,625 C150.0,643.3 135.0,635.0 165,645 C195.0,655.0 195.0,651.7 210,655"/>
<path d="M210,655 C353.3,633.3 410.0,626.7 640,590 C870.0,553.3 780.0,563.3 900,545 C1020.0,526.7 941.7,531.7 1000,535 C1058.3,538.3 1050.0,548.3 1075,555" style="stroke-width:1.6"/>
<path d="M125,540 C133.3,548.3 131.7,551.7 150,565 C168.3,578.3 158.3,572.3 180,580 C201.7,587.7 191.7,584.7 215,588 C238.3,591.3 238.3,589.3 250,590"/>
<path d="M250,590 L740,500 L880,485 L1010,470 Q1070,478 1100,500"/>
<path d="M165,645 L210,590 L215,650 M235,590 L265,640 M880,485 L900,545 M960,475 L940,535 M1010,470 L970,535 M740,500 L725,470 M930,310 L960,390 L1010,470"/>
<!-- bolt 19 upper -->
<path class="hd" d="M575,280 L600,255 L635,262 L650,300 L645,340 L615,355 L585,340 L572,305 Z"/>
<path class="hd" d="M600,255 C596.7,270.0 585.0,266.7 590,300 C595.0,333.3 606.7,336.7 615,355"/>
<path d="M640,265 L905,210 M650,322 L925,265"/>
<path d="M905,210 C912.7,213.3 919.0,208.3 928,220 C937.0,231.7 933.0,230.0 932,245 C931.0,260.0 927.3,258.3 925,265"/>
<!-- bolt 19 lower -->
<path class="hd" d="M680,395 L705,368 L740,375 L755,412 L750,452 L720,468 L690,452 L677,420 Z"/>
<path class="hd" d="M705,368 C701.7,383.7 690.0,381.7 695,415 C700.0,448.3 711.7,450.3 720,468"/>
<path d="M750,377 L1005,320 M755,437 L1025,375"/>
<path d="M1005,320 C1012.7,323.3 1019.0,318.3 1028,330 C1037.0,341.7 1033.0,340.0 1032,355 C1031.0,370.0 1027.3,368.3 1025,375"/>
<path d="M737,95 L737,240 M637,600 L637,730" style="stroke-width:.8"/>
</g>
<text x="940.5" y="204.5" font-size="13.5">19</text>
<text x="924.5" y="312.9" font-size="13.5">18</text>
<!-- part 17 + nuts 20 (tile 1070,150 @6.961) -->
<g transform="translate(1070 150) scale(0.14366)" class="l">
<path d="M160,285 L200,272 L360,480 L330,640 Q330,690 390,710 L330,715 L300,680"/>
<path d="M160,285 L135,445 L300,680 L300,640 L325,490 L170,300"/>
<path d="M325,490 L360,480"/>
<ellipse cx="182" cy="405" rx="14" ry="30" transform="rotate(-12 182 405)"/>
<ellipse cx="268" cy="520" rx="16" ry="30" transform="rotate(-12 268 520)"/>
<path d="M340,445 L1100,325 L1160,322"/>
<path d="M1160,322 C1156.7,348.0 1163.3,357.3 1150,400 C1136.7,442.7 1150.0,421.7 1120,450 C1090.0,478.3 1080.0,473.3 1060,485"/>
<path d="M440,655 L840,540 L1060,485" style="stroke-width:1.6"/>
<path d="M350,620 L400,600 L1040,420 Q1085,410 1105,330"/>
<path d="M1040,420 L1045,485 M1060,425 L1100,460 M1075,415 L1115,440"/>
<path d="M345,625 L400,655 L440,655 M350,640 L385,690 L390,710 M440,590 L465,645 M400,600 L430,650" />
<path d="M345,625 L400,655" style="stroke-width:1.8"/>
<path d="M580,545 L560,505" style="stroke-width:.8"/>
<path d="M450,150 L450,300 M840,545 L840,690" style="stroke-width:.8"/>
</g>
<g transform="translate(1136.6 199.2) scale(0.034) translate(-470 -410)" class="l"><use href="#nutL"/></g>
<g transform="translate(1149 216.3) scale(0.034) translate(-470 -410)" class="l"><use href="#nutL"/></g>
<text x="1128.3" y="167.3" font-size="13.5">20</text>
<text x="1184.6" y="261.4" font-size="13.5">17</text>
</svg>
</body></html>
